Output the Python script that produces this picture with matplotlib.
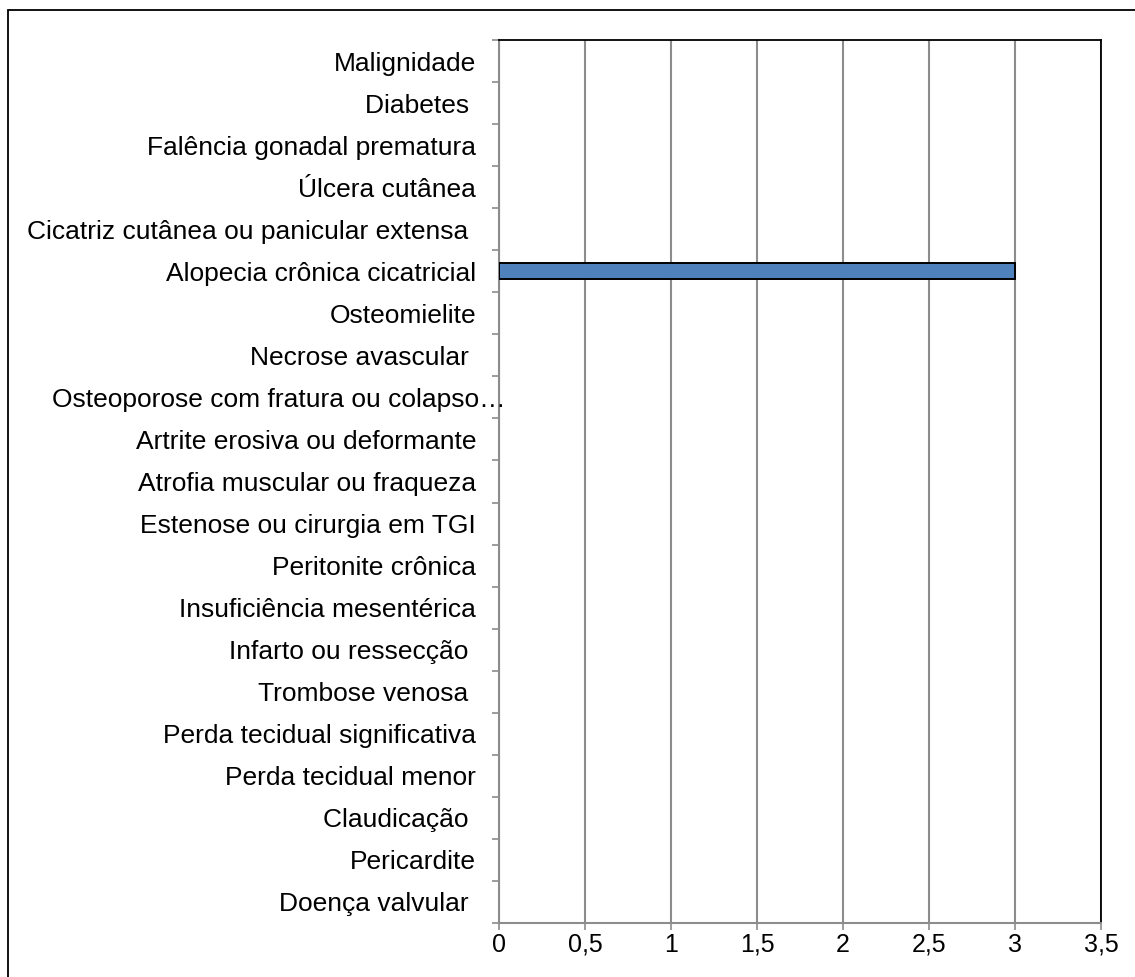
import numpy as np
import matplotlib
matplotlib.use("Agg")
import matplotlib.pyplot as plt
from matplotlib.patches import Rectangle
from matplotlib.ticker import FuncFormatter

plt.rcParams["font.family"] = ["Liberation Sans", "DejaVu Sans"]

# categorias de baixo para cima
categorias = [
    "Doença valvular ",
    "Pericardite",
    "Claudicação ",
    "Perda tecidual menor",
    "Perda tecidual significativa",
    "Trombose venosa ",
    "Infarto ou ressecção ",
    "Insuficiência mesentérica",
    "Peritonite crônica",
    "Estenose ou cirurgia em TGI",
    "Atrofia muscular ou fraqueza",
    "Artrite erosiva ou deformante",
    "Osteoporose com fratura ou colapso…",
    "Necrose avascular ",
    "Osteomielite",
    "Alopecia crônica cicatricial",
    "Cicatriz cutânea ou panicular extensa ",
    "Úlcera cutânea",
    "Falência gonadal prematura",
    "Diabetes ",
    "Malignidade",
]
valores = [0, 0, 0, 0, 0, 0, 0, 0, 0, 0, 0, 0, 0, 0, 0, 3, 0, 0, 0, 0, 0]
ticks_x = [0, 0.5, 1, 1.5, 2, 2.5, 3, 3.5]

fig = plt.figure(figsize=(11.35, 9.77), dpi=100)
W, H = 1135, 977
ax = fig.add_axes([499 / W, 1 - 923 / H, (1101 - 499) / W, (923 - 40) / H])

# borda externa da figura
fig.patches.append(Rectangle((8 / W, -0.01), 1.2, 1 - 10 / H + 0.01,
                             transform=fig.transFigure, fill=False,
                             edgecolor="black", linewidth=1.3))

y = np.arange(len(categorias))
# barras com valor zero não têm contorno
bordas = ["black" if v > 0 else "none" for v in valores]
ax.barh(y, valores, height=0.38, color="#4F81BD", edgecolor=bordas, linewidth=1.4, zorder=3)

ax.set_xlim(0, 3.5)
ax.set_ylim(-0.5, len(categorias) - 0.5)
ax.set_xticks(ticks_x)
ax.xaxis.set_major_formatter(FuncFormatter(lambda v, p: ("%g" % v).replace(".", ",")))

# rótulo truncado ("…") passa por cima do eixo, como no original
longo = [i for i, c in enumerate(categorias) if c.endswith("…")]
rotulos = ["" if i in longo else c for i, c in enumerate(categorias)]
ax.set_yticks(y)
ax.set_yticklabels(rotulos)
for i in longo:
    ax.annotate(categorias[i], xy=(0, y[i]), xycoords=("axes fraction", "data"),
                xytext=(4.5, 0), textcoords="offset points",
                ha="right", va="center_baseline", fontsize=19, annotation_clip=False)
ax.set_yticks(np.arange(-0.5, len(categorias)), minor=True)

ax.grid(axis="x", color="#8c8c8c", linewidth=1.5, zorder=0)
ax.tick_params(axis="y", which="major", length=0, pad=16.5, labelsize=19)
ax.tick_params(axis="y", which="minor", length=5, width=1.2, color="#8c8c8c")
ax.tick_params(axis="x", length=5, width=1.2, color="#8c8c8c", labelsize=18, pad=2)

ax.spines["left"].set_color("#8c8c8c")
ax.spines["bottom"].set_color("#8c8c8c")
for s in ["left", "bottom"]:
    ax.spines[s].set_linewidth(1.5)
for s in ["top", "right"]:
    ax.spines[s].set_color("black")
    ax.spines[s].set_linewidth(1.3)

fig.savefig("out.png", dpi=100)
